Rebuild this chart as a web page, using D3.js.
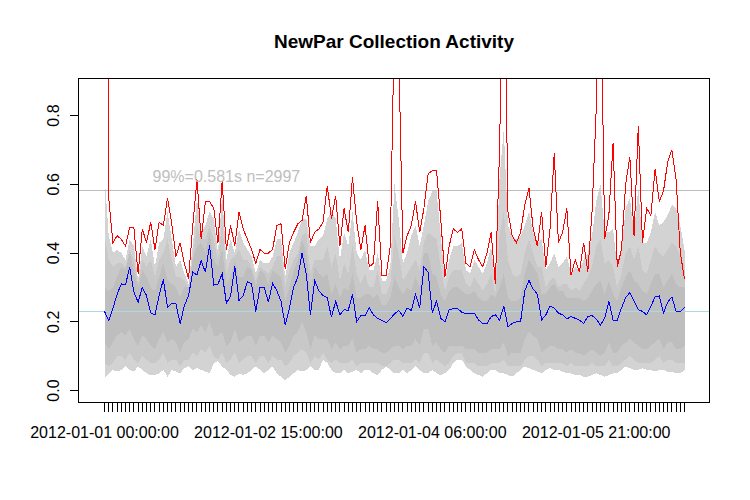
<!DOCTYPE html>
<html><head><meta charset="utf-8">
<script src="https://cdn.jsdelivr.net/npm/d3@7"></script>
<style>
body{margin:0;background:#fff}
svg{display:block;font-family:"Liberation Sans",Arial,sans-serif}
</style>
</head><body><svg id="chart" width="750" height="500"></svg>
<script>
const title = "NewPar Collection Activity";
const startTime = "2012-01-01 00:00:00";
const nHours = 139;
const xTickLabels = ["2012-01-01 00:00:00","2012-01-02 15:00:00","2012-01-04 06:00:00","2012-01-05 21:00:00"];
const yTickValues = [0, 0.2, 0.4, 0.6, 0.8];
const annotation = "99%=0.581s n=2997";
const refLine99 = 0.581;
const refLineMedian = 0.229;

// red line (max)
const maxSeries = [
 7.5,0.56,0.43,0.45,0.44,0.42,0.475,0.473,0.34,0.47,
 0.43,0.49,0.41,0.49,0.48,0.56,0.485,0.39,0.43,0.37,
 0.325,0.48,0.615,0.44,0.55,0.55,0.53,0.43,0.61,0.41,
 0.48,0.42,0.52,0.47,0.44,0.41,0.37,0.41,0.40,0.40,
 0.41,0.48,0.485,0.354,0.43,0.46,0.485,0.495,0.567,0.43,
 0.46,0.47,0.49,0.596,0.50,0.567,0.42,0.53,0.46,0.62,
 0.49,0.41,0.48,0.36,0.37,0.55,0.335,0.335,0.42,1.1,
 1.0,0.40,0.45,0.48,0.55,0.46,0.53,0.63,0.64,0.64,
 0.50,0.33,0.42,0.47,0.46,0.47,0.37,0.36,0.41,0.38,
 0.36,0.40,0.46,0.31,0.70,1.4,0.52,0.45,0.43,0.46,
 0.54,0.59,0.47,0.42,0.52,0.36,0.47,0.69,0.43,0.46,
 0.53,0.335,0.38,0.345,0.43,0.345,0.52,0.82,1.3,0.44,
 0.51,0.72,0.36,0.41,0.60,0.68,0.45,0.77,0.43,0.53,
 0.51,0.645,0.55,0.58,0.665,0.70,0.615,0.40,0.325];

// blue line (median)
const medianSeries = [
 0.23,0.204,0.238,0.28,0.31,0.307,0.36,0.286,0.257,0.30,
 0.276,0.226,0.22,0.276,0.323,0.242,0.254,0.252,0.194,0.247,
 0.276,0.344,0.336,0.378,0.344,0.422,0.307,0.31,0.34,0.254,
 0.274,0.362,0.262,0.276,0.317,0.31,0.23,0.30,0.30,0.257,
 0.312,0.29,0.26,0.19,0.24,0.30,0.33,0.40,0.34,0.22,
 0.32,0.29,0.276,0.27,0.213,0.26,0.22,0.235,0.233,0.28,
 0.20,0.218,0.218,0.24,0.22,0.21,0.204,0.197,0.208,0.223,
 0.233,0.216,0.24,0.233,0.28,0.24,0.36,0.344,0.225,0.26,
 0.21,0.20,0.235,0.238,0.238,0.228,0.223,0.223,0.225,0.205,
 0.195,0.195,0.215,0.22,0.205,0.245,0.185,0.195,0.2,0.2,
 0.29,0.32,0.295,0.28,0.205,0.22,0.245,0.24,0.225,0.22,
 0.208,0.215,0.21,0.205,0.195,0.215,0.218,0.208,0.19,0.21,
 0.26,0.205,0.205,0.24,0.27,0.285,0.26,0.235,0.23,0.22,
 0.245,0.272,0.275,0.226,0.257,0.272,0.23,0.23,0.242];

// outer band (lightest)
const p95 = [
 0.63,0.45,0.40,0.41,0.40,0.38,0.44,0.42,0.32,0.42,
 0.39,0.44,0.36,0.43,0.44,0.52,0.44,0.36,0.38,0.34,
 0.31,0.42,0.56,0.46,0.48,0.52,0.50,0.40,0.57,0.38,
 0.44,0.40,0.47,0.43,0.41,0.39,0.34,0.38,0.37,0.37,
 0.39,0.44,0.44,0.33,0.40,0.43,0.46,0.50,0.50,0.42,
 0.42,0.44,0.45,0.50,0.52,0.50,0.38,0.46,0.42,0.52,
 0.40,0.38,0.41,0.35,0.35,0.40,0.32,0.32,0.36,0.60,
 0.50,0.37,0.40,0.45,0.48,0.42,0.48,0.55,0.58,0.58,
 0.45,0.32,0.38,0.42,0.42,0.43,0.35,0.34,0.38,0.36,
 0.34,0.37,0.42,0.30,0.62,0.76,0.48,0.45,0.44,0.45,
 0.48,0.52,0.46,0.43,0.44,0.35,0.37,0.40,0.36,0.37,
 0.39,0.34,0.36,0.35,0.38,0.40,0.45,0.55,0.60,0.46,
 0.46,0.47,0.36,0.41,0.53,0.56,0.46,0.59,0.43,0.43,
 0.46,0.52,0.48,0.49,0.51,0.54,0.53,0.48,0.41];
const p05 = [
 0.034,0.05,0.06,0.055,0.06,0.07,0.06,0.055,0.07,0.06,
 0.05,0.045,0.045,0.05,0.06,0.04,0.06,0.055,0.05,0.065,
 0.07,0.06,0.065,0.06,0.055,0.05,0.08,0.085,0.07,0.06,
 0.045,0.04,0.05,0.045,0.05,0.06,0.07,0.06,0.05,0.06,
 0.07,0.05,0.04,0.03,0.04,0.05,0.06,0.055,0.06,0.07,
 0.06,0.06,0.09,0.08,0.06,0.05,0.05,0.06,0.05,0.055,
 0.06,0.05,0.06,0.06,0.05,0.045,0.06,0.07,0.06,0.05,
 0.05,0.06,0.05,0.06,0.07,0.06,0.05,0.05,0.06,0.05,
 0.045,0.05,0.06,0.08,0.09,0.09,0.07,0.06,0.05,0.045,
 0.04,0.05,0.06,0.06,0.05,0.05,0.045,0.04,0.05,0.06,
 0.07,0.065,0.06,0.055,0.05,0.06,0.065,0.06,0.06,0.055,
 0.05,0.05,0.045,0.045,0.04,0.04,0.045,0.05,0.045,0.04,
 0.045,0.05,0.05,0.06,0.07,0.065,0.06,0.06,0.065,0.06,
 0.06,0.055,0.06,0.06,0.055,0.055,0.05,0.05,0.06];

// middle band
const p90 = [
 0.45,0.38,0.36,0.37,0.37,0.36,0.41,0.38,0.31,0.38,
 0.36,0.38,0.33,0.38,0.40,0.44,0.38,0.33,0.33,0.32,
 0.30,0.39,0.48,0.44,0.44,0.48,0.44,0.38,0.49,0.34,
 0.38,0.39,0.41,0.38,0.38,0.36,0.32,0.36,0.35,0.34,
 0.36,0.39,0.39,0.30,0.35,0.38,0.40,0.45,0.46,0.34,
 0.38,0.38,0.38,0.42,0.36,0.40,0.32,0.37,0.34,0.42,
 0.34,0.31,0.34,0.30,0.30,0.35,0.28,0.28,0.31,0.45,
 0.40,0.32,0.34,0.36,0.38,0.35,0.43,0.46,0.45,0.44,
 0.36,0.29,0.33,0.35,0.35,0.35,0.31,0.30,0.33,0.31,
 0.29,0.31,0.34,0.28,0.45,0.52,0.38,0.34,0.33,0.34,
 0.40,0.44,0.40,0.36,0.36,0.30,0.32,0.33,0.30,0.31,
 0.31,0.29,0.30,0.29,0.31,0.33,0.36,0.42,0.44,0.37,
 0.38,0.36,0.30,0.34,0.40,0.42,0.38,0.42,0.35,0.34,
 0.38,0.42,0.40,0.39,0.41,0.43,0.42,0.39,0.36];
const p10 = [
 0.08,0.07,0.08,0.10,0.10,0.09,0.11,0.09,0.08,0.10,
 0.09,0.08,0.08,0.09,0.11,0.08,0.09,0.09,0.07,0.09,
 0.09,0.11,0.10,0.12,0.11,0.13,0.10,0.09,0.11,0.08,
 0.09,0.11,0.08,0.09,0.10,0.10,0.08,0.10,0.10,0.08,
 0.10,0.09,0.09,0.07,0.08,0.10,0.11,0.12,0.11,0.08,
 0.10,0.09,0.11,0.09,0.08,0.09,0.08,0.08,0.08,0.09,
 0.07,0.08,0.08,0.08,0.08,0.08,0.07,0.07,0.08,0.09,
 0.09,0.08,0.08,0.08,0.09,0.08,0.11,0.11,0.08,0.09,
 0.08,0.07,0.08,0.10,0.11,0.11,0.08,0.08,0.08,0.07,
 0.07,0.07,0.08,0.08,0.08,0.09,0.07,0.07,0.07,0.07,
 0.09,0.10,0.10,0.09,0.07,0.08,0.08,0.08,0.08,0.08,
 0.07,0.08,0.07,0.07,0.07,0.07,0.08,0.07,0.07,0.07,
 0.09,0.07,0.07,0.08,0.09,0.10,0.09,0.08,0.08,0.08,
 0.08,0.09,0.10,0.08,0.09,0.09,0.08,0.08,0.08];

// inner band (darkest)
const p75 = [
 0.30,0.29,0.30,0.33,0.36,0.35,0.40,0.35,0.30,0.35,
 0.33,0.30,0.29,0.33,0.37,0.32,0.31,0.30,0.27,0.30,
 0.30,0.38,0.42,0.43,0.40,0.46,0.38,0.36,0.41,0.31,
 0.33,0.38,0.33,0.33,0.36,0.35,0.30,0.35,0.34,0.31,
 0.35,0.34,0.33,0.26,0.30,0.35,0.38,0.44,0.40,0.29,
 0.36,0.34,0.33,0.34,0.28,0.31,0.27,0.30,0.29,0.34,
 0.27,0.27,0.28,0.28,0.27,0.28,0.25,0.25,0.27,0.33,
 0.30,0.28,0.30,0.29,0.33,0.30,0.40,0.40,0.34,0.33,
 0.28,0.26,0.29,0.30,0.30,0.29,0.28,0.28,0.29,0.27,
 0.26,0.26,0.28,0.27,0.30,0.34,0.27,0.26,0.26,0.27,
 0.34,0.38,0.36,0.34,0.28,0.28,0.30,0.31,0.29,0.29,
 0.27,0.27,0.27,0.27,0.26,0.27,0.29,0.31,0.32,0.28,
 0.32,0.28,0.26,0.30,0.33,0.35,0.32,0.31,0.29,0.28,
 0.31,0.34,0.34,0.30,0.32,0.34,0.31,0.30,0.30];
const p25 = [
 0.14,0.12,0.14,0.16,0.17,0.16,0.18,0.15,0.13,0.16,
 0.15,0.13,0.12,0.15,0.17,0.14,0.15,0.14,0.11,0.14,
 0.15,0.18,0.17,0.19,0.17,0.20,0.16,0.16,0.17,0.13,
 0.14,0.18,0.14,0.15,0.16,0.16,0.13,0.16,0.16,0.14,
 0.16,0.15,0.14,0.11,0.13,0.16,0.17,0.20,0.17,0.12,
 0.16,0.15,0.15,0.15,0.12,0.14,0.12,0.13,0.13,0.15,
 0.11,0.12,0.12,0.13,0.12,0.12,0.11,0.11,0.12,0.13,
 0.13,0.12,0.13,0.13,0.15,0.13,0.18,0.18,0.13,0.14,
 0.12,0.11,0.13,0.13,0.13,0.13,0.12,0.12,0.12,0.11,
 0.11,0.11,0.12,0.12,0.12,0.14,0.10,0.11,0.11,0.11,
 0.15,0.17,0.16,0.15,0.11,0.12,0.13,0.13,0.12,0.12,
 0.11,0.12,0.11,0.11,0.10,0.11,0.12,0.11,0.10,0.11,
 0.14,0.11,0.11,0.13,0.14,0.15,0.14,0.13,0.12,0.12,
 0.13,0.14,0.15,0.12,0.14,0.14,0.12,0.12,0.13];

const fmt = d3.timeFormat("%Y-%m-%d %H:%M:%S");
const t0 = d3.timeParse("%Y-%m-%d %H:%M:%S")(startTime);
const categories = d3.range(nHours).map(h => fmt(d3.timeHour.offset(t0, h)));

const svg = d3.select("#chart");
const plot = {left: 78.5, right: 709.5, top: 78.5, bottom: 402.5};

const x = d3.scalePoint().domain(categories).range([104.5, 684.5]);
const y = d3.scaleLinear().domain([0, 0.8]).range([390.5, 115.5]);

svg.append("defs").append("clipPath").attr("id", "clip")
  .append("rect").attr("x", plot.left).attr("y", plot.top)
  .attr("width", plot.right - plot.left).attr("height", plot.bottom - plot.top);

const g = svg.append("g").attr("clip-path", "url(#clip)");
const idx = d3.range(nHours);

const bands = [
  {lo: p05, hi: p95, color: "#d3d3d3"},
  {lo: p10, hi: p90, color: "#c8c8c8"},
  {lo: p25, hi: p75, color: "#bebebe"}
];
bands.forEach(b => {
  g.append("path").datum(idx)
    .attr("fill", b.color).attr("stroke", "none")
    .attr("shape-rendering", "crispEdges")
    .attr("d", d3.area().x(i => x(categories[i])).y0(i => y(b.lo[i])).y1(i => y(b.hi[i])));
});

// reference lines
const rowY = v => Math.floor(y(v)) + 0.5;
g.append("line").attr("x1", plot.left).attr("x2", plot.right)
  .attr("y1", rowY(refLine99)).attr("y2", rowY(refLine99))
  .attr("stroke", "#bebebe").attr("stroke-width", 1);
g.append("line").attr("x1", plot.left).attr("x2", plot.right)
  .attr("y1", rowY(refLineMedian)).attr("y2", rowY(refLineMedian))
  .attr("stroke", "#add8e6").attr("stroke-width", 1);

const line = arr => d3.line().x(i => x(categories[i])).y(i => y(arr[i]));
g.append("path").datum(idx).attr("fill", "none").attr("stroke", "#ff0000")
  .attr("stroke-width", 1).attr("shape-rendering", "crispEdges").attr("d", line(maxSeries));
g.append("path").datum(idx).attr("fill", "none").attr("stroke", "#0000ff")
  .attr("stroke-width", 1).attr("shape-rendering", "crispEdges").attr("d", line(medianSeries));

// annotation
svg.append("text").attr("x", x(categories[29])).attr("y", y(0.608))
  .attr("text-anchor", "middle").attr("font-size", "16px").attr("fill", "#bebebe")
  .text(annotation);

// box
svg.append("rect").attr("x", plot.left).attr("y", plot.top)
  .attr("width", plot.right - plot.left).attr("height", plot.bottom - plot.top)
  .attr("fill", "none").attr("stroke", "#000").attr("stroke-width", 1)
  .attr("shape-rendering", "crispEdges");

// x axis
const xAxis = d3.axisBottom(x).tickValues(categories).tickSize(9).tickSizeOuter(0)
  .tickFormat("").offset(0);
const gx = svg.append("g").attr("transform", `translate(0,${plot.bottom})`).call(xAxis);
gx.selectAll("path,line").attr("stroke", "#000").attr("shape-rendering", "crispEdges");
svg.append("g").selectAll("text").data(xTickLabels).join("text")
  .attr("x", d => x(d)).attr("y", 438)
  .attr("text-anchor", "middle").attr("font-size", "16px").attr("fill", "#000")
  .text(d => d);

// y axis
const yAxis = d3.axisLeft(y).tickValues(yTickValues).tickSize(9).tickSizeOuter(0)
  .tickFormat("").offset(0);
const gy = svg.append("g").attr("transform", `translate(${plot.left},0)`).call(yAxis);
gy.selectAll("path,line").attr("stroke", "#000").attr("shape-rendering", "crispEdges");
svg.append("g").selectAll("text").data(yTickValues).join("text")
  .attr("transform", d => `translate(58.5,${y(d)}) rotate(-90)`)
  .attr("text-anchor", "middle").attr("font-size", "16px").attr("fill", "#000")
  .text(d => d3.format(".1f")(d));

// title
svg.append("text").attr("x", (plot.left + plot.right) / 2).attr("y", 48)
  .attr("text-anchor", "middle").attr("font-size", "19px").attr("font-weight", "bold")
  .attr("fill", "#000").text(title);
</script>
</body></html>
